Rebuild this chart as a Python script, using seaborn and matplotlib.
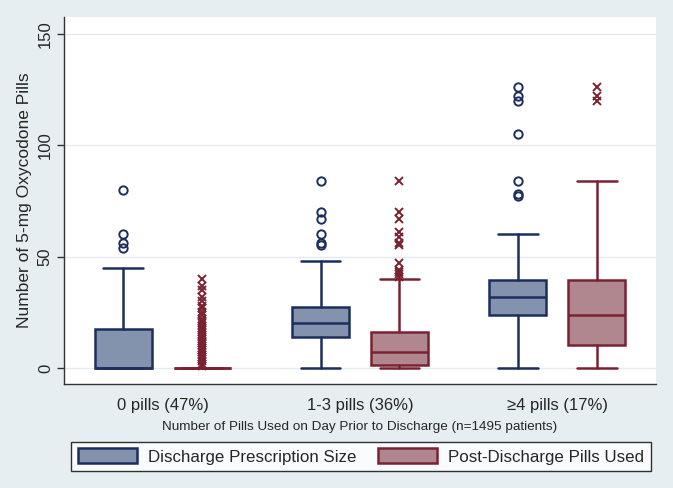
import matplotlib
matplotlib.use("Agg")
import matplotlib.pyplot as plt
import seaborn as sns
from matplotlib.patches import Patch

# Groups on the x axis
groups = ["0 pills (47%)", "1-3 pills (36%)", "\u22654 pills (17%)"]

# Discharge prescription size (box summaries)
rx_q1 = [0, 14, 24]
rx_med = [0, 20, 32]
rx_q3 = [17.5, 27.5, 39.5]
rx_lo = [0, 0, 0]
rx_hi = [45, 48, 60]
rx_out = [[80, 60, 56, 54],
          [84, 70, 67, 60, 56, 55],
          [126, 122, 120, 105, 84, 78, 77]]

# Post-discharge pills used
used_q1 = [0, 1.5, 10.3]
used_med = [0, 7, 24]
used_q3 = [0, 16.3, 39.5]
used_lo = [0, 0, 0]
used_hi = [0, 40, 84]
used_out = [[40, 37, 35, 32, 30, 28, 27, 25, 24, 22, 21, 20, 19, 18, 17, 16,
             15, 14, 13, 12, 11, 10, 9, 8, 7, 6, 5, 4, 3, 2, 1],
            [84, 70, 67, 61, 59, 56, 55, 47, 44, 43, 42, 41],
            [126, 122, 120]]

sns.set_theme(style="white")
plt.rcParams['font.family'] = ['Liberation Sans', 'DejaVu Sans']

bg = '#e7eef1'
navy = '#1c2e5e'
maroon = '#7b2232'
blue_fill = '#8493ad'
red_fill = '#b0878e'


def make_stats(q1, med, q3, lo, hi, out):
    return [dict(q1=a, med=b, q3=c, whislo=d, whishi=e, fliers=f)
            for a, b, c, d, e, f in zip(q1, med, q3, lo, hi, out)]


fig = plt.figure(figsize=(6.73, 4.88), dpi=100, facecolor=bg)
ax = fig.add_axes([64 / 673, 1 - 384 / 488, 592 / 673, 367 / 488])
ax.set_facecolor('white')

pos = list(range(len(groups)))
off = 0.2
bw = 0.29

for stats, shift, edge, fill, mk in [
        (make_stats(rx_q1, rx_med, rx_q3, rx_lo, rx_hi, rx_out), -off, navy, blue_fill, 'o'),
        (make_stats(used_q1, used_med, used_q3, used_lo, used_hi, used_out), off, maroon, red_fill, 'x')]:
    ax.bxp(stats, positions=[p + shift for p in pos], widths=bw,
           capwidths=0.2, patch_artist=True, manage_ticks=False,
           boxprops=dict(facecolor=fill, edgecolor=edge, linewidth=1.8),
           medianprops=dict(color=edge, linewidth=1.8),
           whiskerprops=dict(color=edge, linewidth=1.8),
           capprops=dict(color=edge, linewidth=1.8),
           flierprops=dict(marker=mk, markersize=6, markerfacecolor='none',
                           markeredgecolor=edge, markeredgewidth=1.4,
                           linestyle='none'))

ax.set_xlim(-0.5, 2.5)
ax.set_ylim(-7.2, 157.6)
ax.set_yticks([0, 50, 100, 150])
ax.set_xticks(pos)
ax.set_xticklabels(groups, fontsize=12)
ax.tick_params(axis='x', length=0, pad=10)
ax.tick_params(axis='y', length=5, width=1, color='#333333', left=True, pad=3,
               labelsize=12)
for lab in ax.get_yticklabels():
    lab.set_rotation(90)
    lab.set_va('center')

ax.yaxis.grid(True, color='#e3eaee', linewidth=1)
ax.set_axisbelow(True)
for s in ['top', 'right']:
    ax.spines[s].set_visible(False)
for s in ['left', 'bottom']:
    ax.spines[s].set_color('#333333')
    ax.spines[s].set_linewidth(1)

ax.set_ylabel("Number of 5-mg Oxycodone Pills", fontsize=12.5, labelpad=4)
ax.set_xlabel("Number of Pills Used on Day Prior to Discharge (n=1495 patients)",
              fontsize=9.7, labelpad=6)

handles = [Patch(facecolor=blue_fill, edgecolor=navy, linewidth=1.8),
           Patch(facecolor=red_fill, edgecolor=maroon, linewidth=1.8)]
leg = fig.legend(handles, ["Discharge Prescription Size", "Post-Discharge Pills Used"],
                 loc='center', bbox_to_anchor=(361 / 673, 1 - 456.5 / 488), ncol=2,
                 fontsize=12.2, frameon=True, fancybox=False, handlelength=3.5,
                 handleheight=1.0, handletextpad=0.65, columnspacing=1.25,
                 borderpad=0.4)
leg.get_frame().set_edgecolor('black')
leg.get_frame().set_linewidth(1)
leg.get_frame().set_facecolor('white')

fig.savefig("out.png", dpi=100, facecolor=bg)
